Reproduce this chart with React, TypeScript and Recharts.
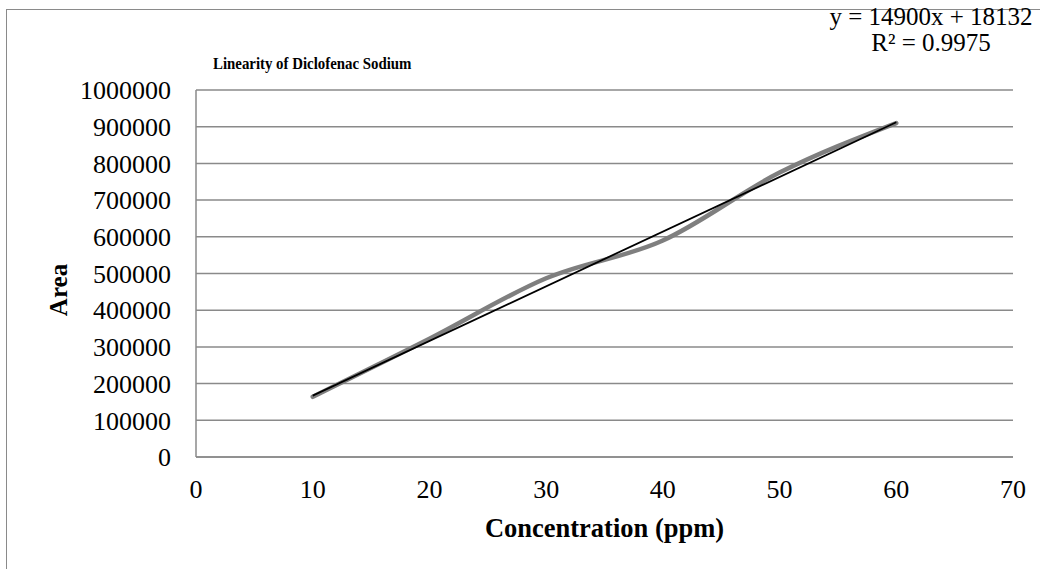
import { LineChart, Line, XAxis, YAxis, CartesianGrid } from 'recharts';

// measured points (ppm vs peak area)
const concentrations = [10, 20, 30, 40, 50, 60];
const areas = [164000, 322000, 487000, 590000, 775000, 910000];

// linear trendline end points, y = 14900x + 18132
const trendConc = [10, 60];
const trendArea = [167132, 912132];

const xTicks = [0, 10, 20, 30, 40, 50, 60, 70];
const yTicks = [0, 100000, 200000, 300000, 400000, 500000, 600000, 700000, 800000, 900000, 1000000];

const serif = '"Liberation Serif", "Times New Roman", serif';
const gridGray = '#8a8a8a';

const areaData = concentrations.map((c, i) => ({ conc: c, area: areas[i] }));
const trendData = trendConc.map((c, i) => ({ conc: c, area: trendArea[i] }));

export default function App() {
  return (
    <div style={{ position: 'absolute', left: 0, top: 0, width: 1040, height: 569, background: '#fff', overflow: 'hidden', fontFamily: serif }}>
      <div style={{ position: 'absolute', left: 6, top: 9, width: 1060, height: 600, border: `1.5px solid ${gridGray}` }} />

      <LineChart
        width={1040}
        height={569}
        margin={{ top: 90, right: 27, left: 136, bottom: 22 }}
        style={{ position: 'absolute', left: 0, top: 0 }}
      >
        <CartesianGrid vertical={false} stroke={gridGray} strokeWidth={1.5} />
        <XAxis
          dataKey="conc"
          type="number"
          domain={[0, 70]}
          ticks={xTicks}
          allowDataOverflow
          height={90}
          tickSize={0}
          tickMargin={23}
          tick={{ fill: '#000', fontSize: 26, fontFamily: serif }}
          axisLine={{ stroke: gridGray, strokeWidth: 1.5 }}
          label={{
            value: 'Concentration (ppm)',
            position: 'insideBottom',
            offset: 10,
            style: { fill: '#000', fontSize: 26.5, fontWeight: 'bold', fontFamily: serif },
          }}
        />
        <YAxis
          type="number"
          domain={[0, 1000000]}
          ticks={yTicks}
          width={60}
          tickSize={0}
          tickMargin={25}
          interval={0}
          tick={{ fill: '#000', fontSize: 26, fontFamily: serif }}
          axisLine={{ stroke: gridGray, strokeWidth: 1.5 }}
        />
        <Line
          data={areaData}
          dataKey="area"
          type="monotone"
          stroke="#7f7f7f"
          strokeWidth={4.5}
          strokeLinecap="round"
          dot={false}
          isAnimationActive={false}
        />
        <Line
          data={trendData}
          dataKey="area"
          type="linear"
          stroke="#000"
          strokeWidth={1.8}
          dot={false}
          isAnimationActive={false}
        />
      </LineChart>

      <div
        style={{
          position: 'absolute',
          left: 213,
          top: 56,
          fontSize: 16.5,
          fontWeight: 'bold',
          lineHeight: 1,
          whiteSpace: 'nowrap',
          transform: 'scaleX(0.9)',
          transformOrigin: 'left center',
        }}
      >
        Linearity of Diclofenac Sodium
      </div>
      <div style={{ position: 'absolute', left: 781, top: 4, width: 300, textAlign: 'center', fontSize: 25, lineHeight: '26px', whiteSpace: 'nowrap' }}>
        <div>y = 14900x + 18132</div>
        <div>R² = 0.9975</div>
      </div>
      <div
        style={{
          position: 'absolute',
          left: 58,
          top: 290,
          transform: 'translate(-50%, -50%) rotate(-90deg)',
          fontSize: 25,
          fontWeight: 'bold',
          lineHeight: 1,
          whiteSpace: 'nowrap',
        }}
      >
        Area
      </div>
    </div>
  );
}
